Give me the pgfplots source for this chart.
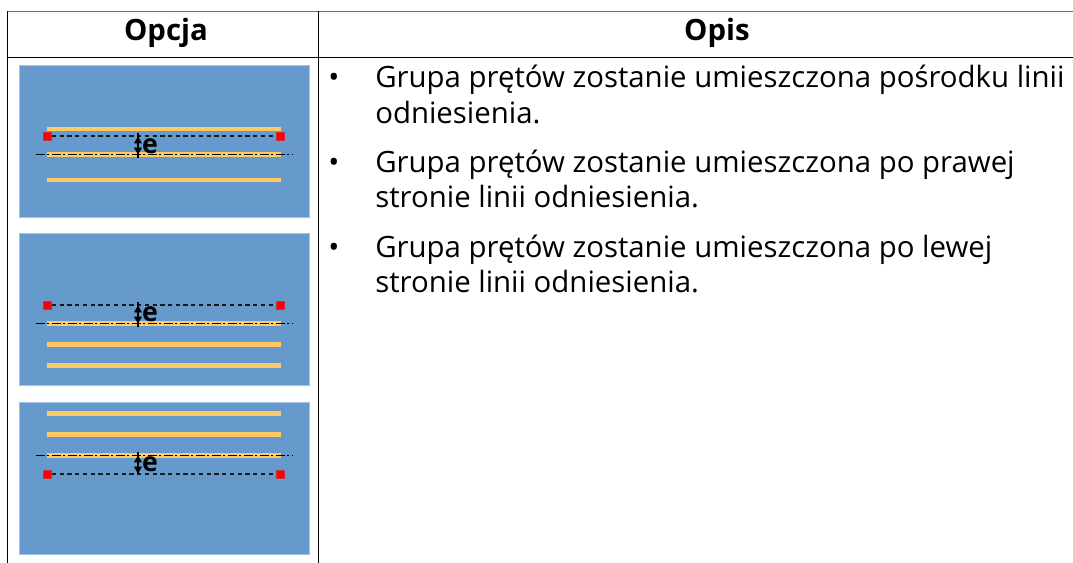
\documentclass[border=0pt]{standalone}
\usepackage{pgfplots}
\pgfplotsset{compat=1.18}
\usepackage{fontspec}
\setmainfont{Open Sans}
\definecolor{bluebg}{HTML}{6699CC}
\definecolor{bluebd}{HTML}{A3C2E0}
\definecolor{rod}{HTML}{FFC966}
\definecolor{rule}{HTML}{6E6E6E}
\newcommand{\bodytxt}[3]{\node[anchor=base west,inner sep=0pt,font=\fontsize{22.03pt}{24pt}\selectfont] at (axis cs:#1,#2) {#3};}
\begin{document}
\begin{tikzpicture}[x=1pt,y=1pt]
\useasboundingbox (0,0) rectangle (804.75pt,422.25pt);
\begin{axis}[at={(0,0)},anchor=south west,scale only axis,width=804.75pt,height=422.25pt,
  xmin=0,xmax=1073,ymin=0,ymax=563,y dir=reverse,hide axis,clip=true]
% table rules
\addplot[rule,line width=1pt,forget plot] coordinates {(7,11.5)(1073,11.5)};
\addplot[black,line width=0.85pt,forget plot] coordinates {(7,57.5)(1073,57.5)};
\addplot[black,line width=0.85pt,forget plot] coordinates {(7.5,11.5)(7.5,563)};
\addplot[black,line width=0.85pt,forget plot] coordinates {(318.5,11.5)(318.5,563)};
% blue panels
\addplot[fill=bluebg,draw=bluebd,line width=0.5pt] coordinates {(19.5,65)(309.5,65)(309.5,217)(19.5,217)} -- cycle;
\addplot[fill=bluebg,draw=bluebd,line width=0.5pt] coordinates {(19.5,233.5)(309.5,233.5)(309.5,385.5)(19.5,385.5)} -- cycle;
\addplot[fill=bluebg,draw=bluebd,line width=0.5pt] coordinates {(19.5,402.5)(309.5,402.5)(309.5,554.5)(19.5,554.5)} -- cycle;
% rods
\addplot[rod,line width=3.5pt] coordinates {(46.5,129)(281,129)};
\addplot[rod,line width=3.5pt] coordinates {(46.5,154.5)(281,154.5)};
\addplot[rod,line width=3.5pt] coordinates {(46.5,180)(281,180)};
\addplot[rod,line width=3.5pt] coordinates {(46.5,323.5)(281,323.5)};
\addplot[rod,line width=3.5pt] coordinates {(46.5,344.5)(281,344.5)};
\addplot[rod,line width=3.5pt] coordinates {(46.5,365.5)(281,365.5)};
\addplot[rod,line width=3.5pt] coordinates {(46.5,413.5)(281,413.5)};
\addplot[rod,line width=3.5pt] coordinates {(46.5,434.5)(281,434.5)};
\addplot[rod,line width=3.5pt] coordinates {(46.5,455.5)(281,455.5)};
% dashed offset lines
\addplot[black!90,line width=1pt,dash pattern=on 3.2pt off 2.6pt] coordinates {(52,136)(276,136)};
\addplot[black!90,line width=1pt,dash pattern=on 3.2pt off 2.6pt] coordinates {(52,305)(276,305)};
\addplot[black!90,line width=1pt,dash pattern=on 3.2pt off 2.6pt] coordinates {(52,474)(276,474)};
% dash-dot reference lines
\addplot[black,line width=1.25pt,dash pattern=on 6.5pt off 2pt on 1.5pt off 2pt] coordinates {(36,154.5)(293,154.5)};
\addplot[black,line width=1.25pt,dash pattern=on 6.5pt off 2pt on 1.5pt off 2pt] coordinates {(36,323.5)(293,323.5)};
\addplot[black,line width=1.25pt,dash pattern=on 6.5pt off 2pt on 1.5pt off 2pt] coordinates {(36,455.5)(293,455.5)};
% red handles
\addplot[only marks,mark=square*,mark size=3pt,mark options={fill=red,draw=red!70!bluebg,line width=0.3pt}] coordinates {(47.5,136)(280,136)(47.5,305)(280,305)(47.5,474)(280,474)};
% dimension arrows
\addplot[black,line width=0.9pt] coordinates {(138,133)(138,158)};
\addplot[black,line width=0.9pt] coordinates {(138,302)(138,327)};
\addplot[black,line width=0.9pt] coordinates {(138,452)(138,474)};
\addplot[only marks,mark=triangle*,mark size=3pt,black] coordinates {(138,141)(138,310)(138,460)};
\addplot[only marks,mark=triangle*,mark size=3pt,black,mark options={rotate=180}] coordinates {(138,150)(138,319)(138,469)};
% e
\node[inner sep=0pt,font=\fontsize{20pt}{22pt}\selectfont\bfseries] at (axis cs:150,146) {e};
\node[inner sep=0pt,font=\fontsize{20pt}{22pt}\selectfont\bfseries] at (axis cs:150,314) {e};
\node[inner sep=0pt,font=\fontsize{20pt}{22pt}\selectfont\bfseries] at (axis cs:150,464.5) {e};
% headers
\node[anchor=base,inner sep=0pt,font=\fontsize{22.03pt}{24pt}\selectfont\bfseries] at (axis cs:166,41) {Opcja};
\node[anchor=base,inner sep=0pt,font=\fontsize{22.03pt}{24pt}\selectfont\bfseries] at (axis cs:717,41) {Opis};
% body
\node[anchor=base,inner sep=0pt,font=\fontsize{22.03pt}{24pt}\selectfont] at (axis cs:334,88) {•};
\node[anchor=base,inner sep=0pt,font=\fontsize{22.03pt}{24pt}\selectfont] at (axis cs:334,172.5) {•};
\node[anchor=base,inner sep=0pt,font=\fontsize{22.03pt}{24pt}\selectfont] at (axis cs:334,257.5) {•};
\bodytxt{375}{88}{Grupa prętów zostanie umieszczona pośrodku linii}
\bodytxt{375}{123}{odniesienia.}
\bodytxt{375}{172.5}{Grupa prętów zostanie umieszczona po prawej}
\bodytxt{375}{207.5}{stronie linii odniesienia.}
\bodytxt{375}{257.5}{Grupa prętów zostanie umieszczona po lewej}
\bodytxt{375}{292.5}{stronie linii odniesienia.}
\end{axis}
\end{tikzpicture}
\end{document}
